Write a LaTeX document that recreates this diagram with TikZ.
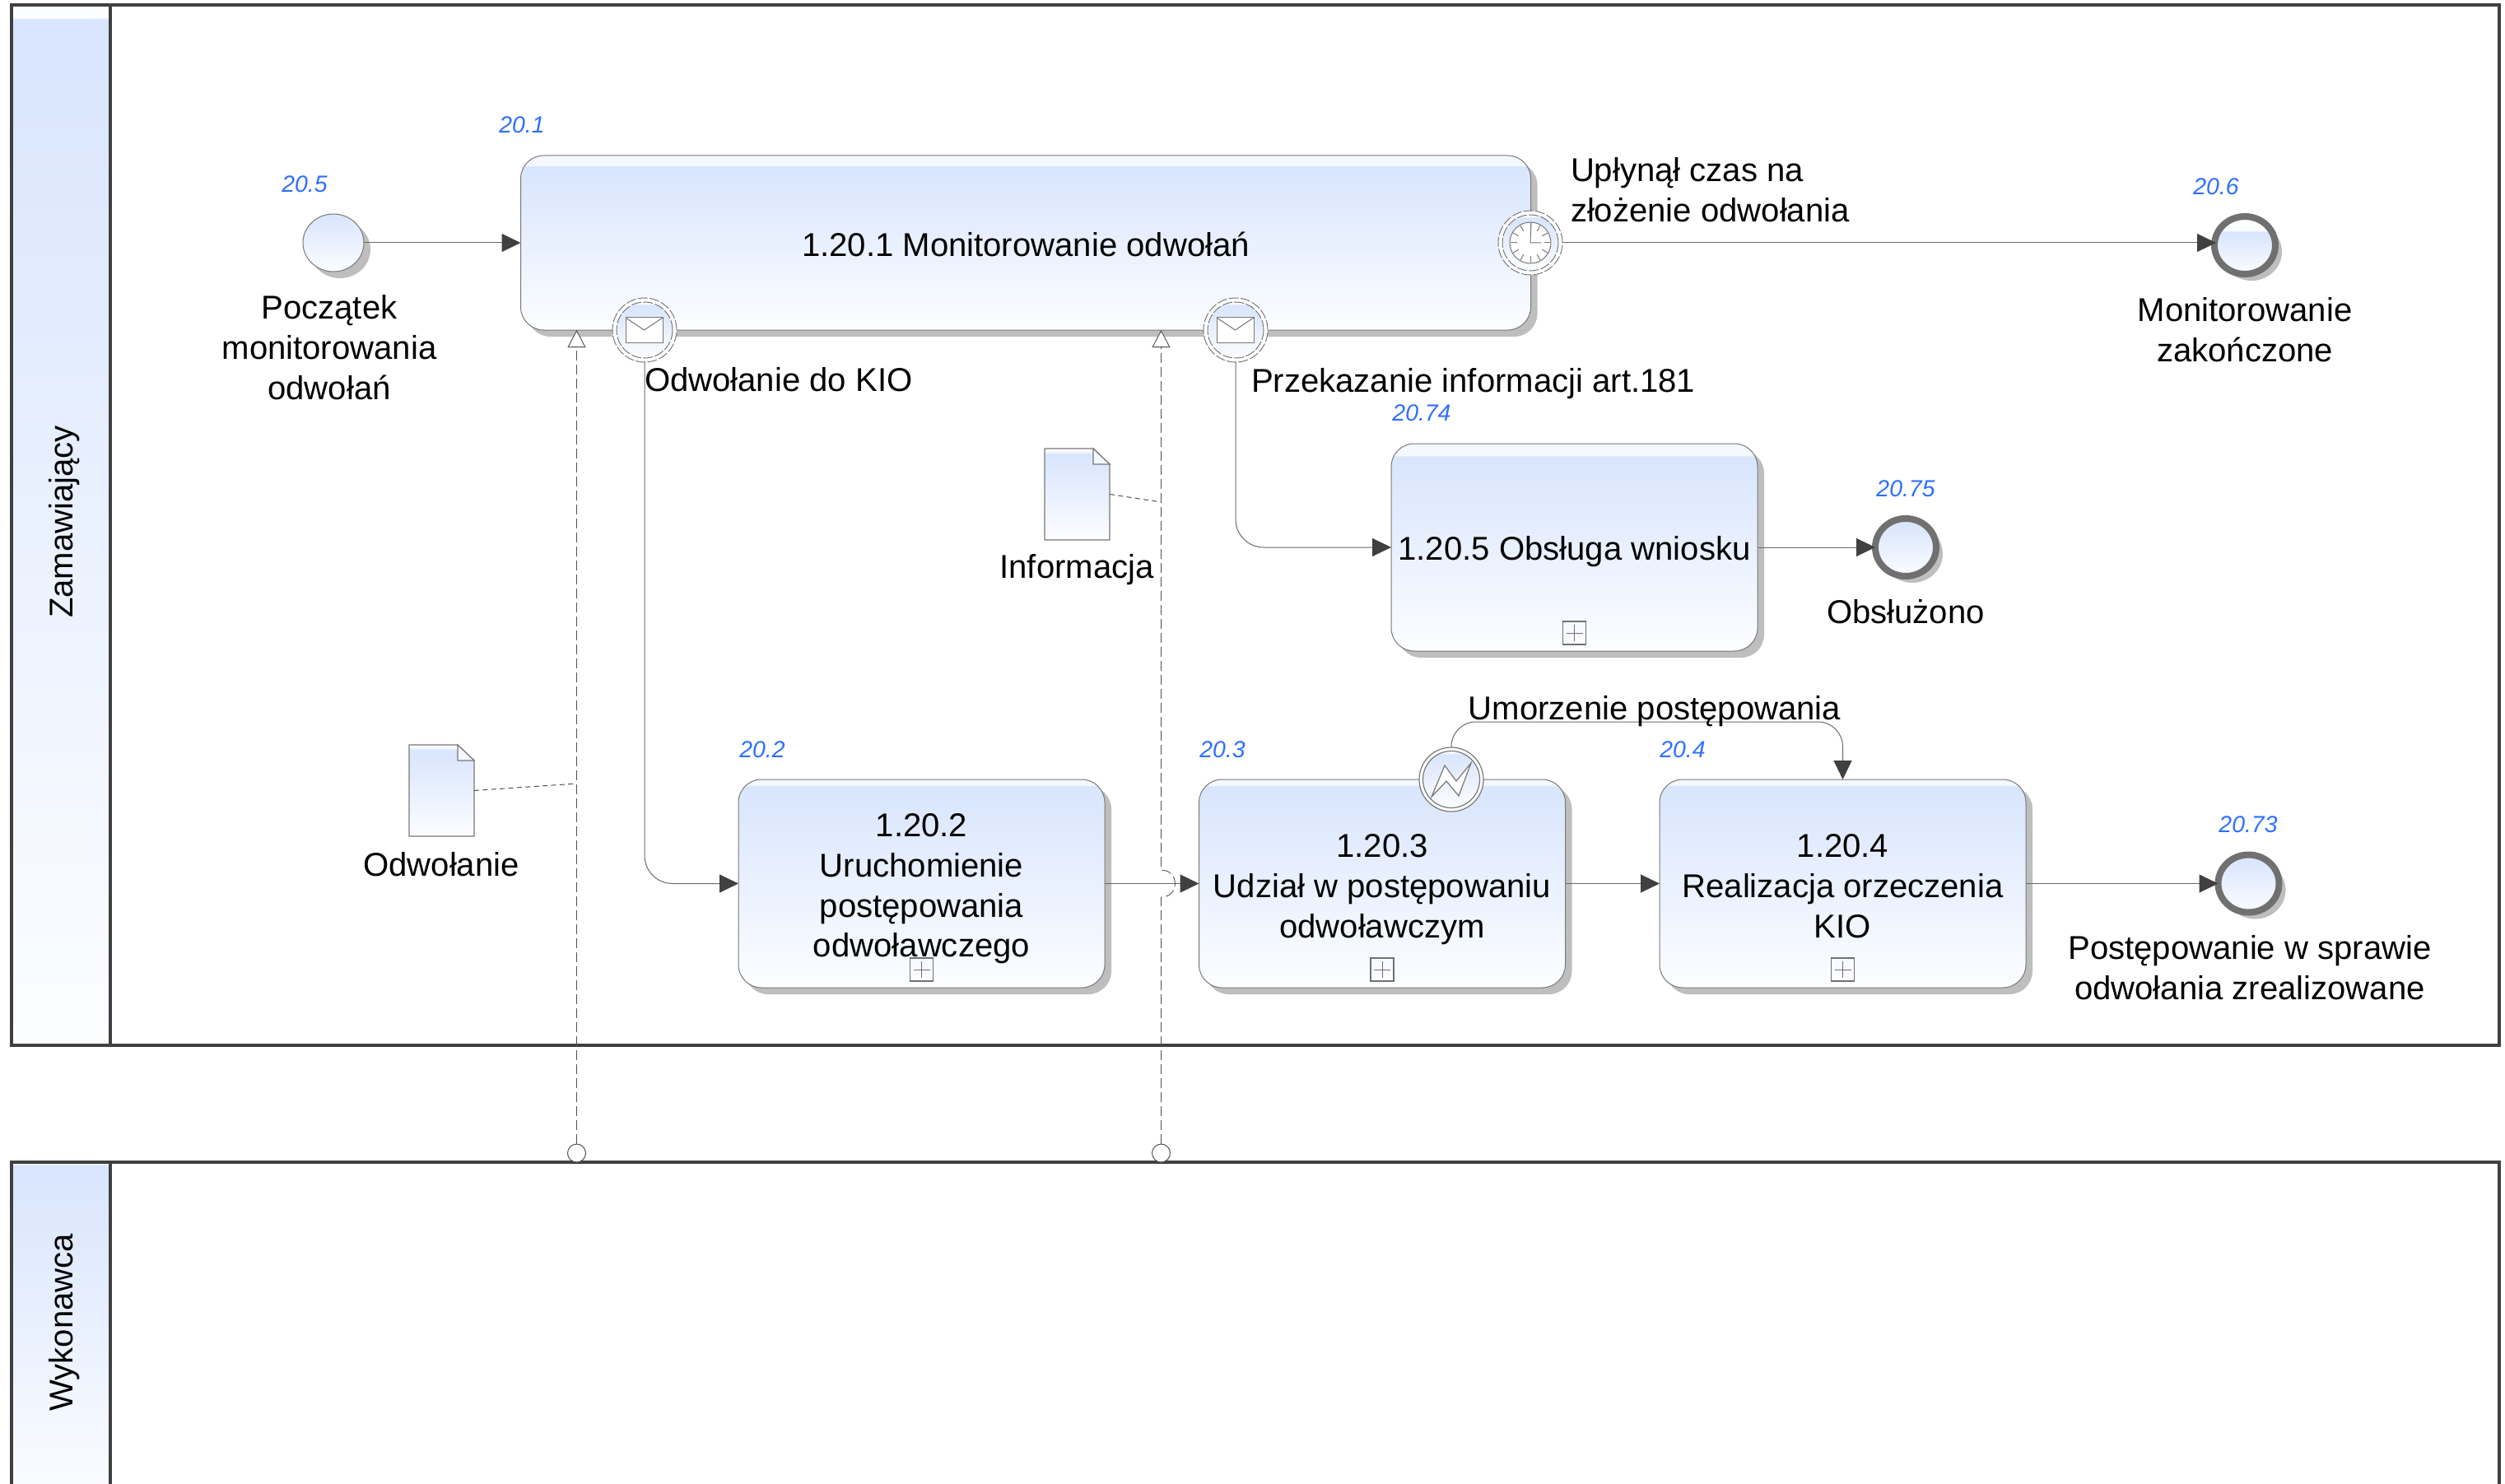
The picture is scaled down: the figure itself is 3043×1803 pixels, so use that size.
\documentclass[tikz,border=0pt]{standalone}
\usepackage{fontspec}
\setmainfont{Liberation Sans}
\usetikzlibrary{arrows.meta,shapes.geometric,shadows,calc}
\definecolor{gtop}{HTML}{D8E5FD}
\definecolor{gbot}{HTML}{FCFDFF}
\definecolor{gstrip}{HTML}{F4F8FF}
\definecolor{edgegray}{HTML}{787878}
\definecolor{ringgray}{HTML}{707070}
\definecolor{poolgray}{HTML}{404040}
\definecolor{shadowgray}{HTML}{BEBEBE}
\definecolor{idblue}{HTML}{2F70FF}
\definecolor{tipdark}{HTML}{404040}
\definecolor{linegray}{HTML}{505050}
\pgfdeclareverticalshading{taskA}{100bp}{color(0bp)=(gbot); color(25bp)=(gbot); color(72bp)=(gtop); color(72.1bp)=(gstrip); color(100bp)=(gstrip)}
\pgfdeclareverticalshading{taskB}{100bp}{color(0bp)=(gbot); color(25bp)=(gbot); color(73.5bp)=(gtop); color(73.6bp)=(gstrip); color(100bp)=(gstrip)}
\pgfdeclareverticalshading{poolA}{100bp}{color(0bp)=(gbot); color(25bp)=(gbot); color(74.3bp)=(gtop); color(74.4bp)=(gbot); color(100bp)=(gbot)}
\pgfdeclareverticalshading{poolB}{100bp}{color(0bp)=(gbot); color(25bp)=(gbot); color(74.6bp)=(gtop); color(74.7bp)=(gbot); color(100bp)=(gbot)}
\pgfdeclareverticalshading{evA}{100bp}{color(0bp)=(gbot); color(25bp)=(gbot); color(61.5bp)=(gtop); color(63bp)=(gbot); color(100bp)=(gbot)}
\pgfdeclareverticalshading{evB}{100bp}{color(0bp)=(gbot); color(25bp)=(gbot); color(72bp)=(gtop); color(74bp)=(gbot); color(100bp)=(gbot)}
\pgfdeclareverticalshading{evC}{100bp}{color(0bp)=(gbot); color(25bp)=(gbot); color(75bp)=(gtop); color(100bp)=(gtop)}
\newcommand{\topstrut}[1]{\rule{0pt}{#1pt}}
\tikzset{
  lbl/.style={inner sep=0pt,outer sep=0pt,align=center,font=\fontsize{20.05}{24.4}\selectfont,text=black},
  idlbl/.style={inner sep=0pt,outer sep=0pt,font=\fontsize{14.2}{16}\selectfont\itshape,text=idblue},
  taskbox/.style={rectangle,rounded corners=14pt,draw=edgegray,line width=.5pt,inner sep=0pt,outer sep=0pt,shading=#1,align=center,
    font=\fontsize{20.05}{24.4}\selectfont,
    drop shadow={shadow xshift=4pt,shadow yshift=-4pt,opacity=1,fill=shadowgray}},
  rowtask/.style={taskbox=taskB,minimum width=222.5pt,minimum height=126.5pt},
  startev/.style={ellipse,draw=edgegray,line width=.5pt,inner sep=0pt,outer sep=0pt,shading=evC,minimum width=37pt,minimum height=35pt,
    drop shadow={shadow xshift=4pt,shadow yshift=-4pt,opacity=1,fill=shadowgray}},
  endev/.style={ellipse,draw=ringgray,line width=4pt,inner sep=0pt,outer sep=0pt,shading=#1,minimum width=37pt,minimum height=35pt,
    drop shadow={shadow xshift=4pt,shadow yshift=-4pt,opacity=1,fill=shadowgray}},
  boundout/.style={circle,draw=edgegray,line width=.5pt,dash pattern=on 6pt off 1.2pt,fill=white,inner sep=0pt,outer sep=0pt,minimum size=39pt},
  boundin/.style={circle,draw=edgegray,line width=.5pt,dash pattern=on 6pt off 1.2pt,shading=evB,inner sep=0pt,outer sep=0pt,minimum size=34pt},
  solidout/.style={circle,draw=edgegray,line width=.6pt,fill=white,inner sep=0pt,outer sep=0pt,minimum size=39pt},
  solidin/.style={circle,draw=edgegray,line width=.6pt,shading=evB,inner sep=0pt,outer sep=0pt,minimum size=34.5pt},
  envelope/.style={rectangle,draw=edgegray,line width=.5pt,fill=white,inner sep=0pt,outer sep=0pt,minimum width=22.5pt,minimum height=15pt,
    path picture={\draw[edgegray,line width=.5pt] (path picture bounding box.north west) -- (path picture bounding box.center) -- (path picture bounding box.north east);}},
  clockface/.style={circle,draw=edgegray,line width=.5pt,fill=white,inner sep=0pt,outer sep=0pt,minimum size=25pt},
  plusbox/.style={rectangle,draw=ringgray,line width=.7pt,fill=none,inner sep=0pt,outer sep=0pt,minimum size=14pt,
    path picture={\draw[ringgray,line width=.5pt] ([xshift=2pt]path picture bounding box.west) -- ([xshift=-2pt]path picture bounding box.east)
       ([yshift=-2pt]path picture bounding box.north) -- ([yshift=2pt]path picture bounding box.south);}},
  flow/.style={draw=linegray!85!white,line width=.5pt,-{Triangle[length=11.5pt,width=11pt,color=tipdark]}},
  msgflow/.style={draw=linegray,line width=.45pt,dash pattern=on 6pt off 2.5pt,-{Triangle[open,length=10.5pt,width=11pt,fill=white,color=linegray]}},
  msgend/.style={circle,draw=linegray,line width=.5pt,fill=white,inner sep=0pt,outer sep=0pt,minimum size=11pt},
  assoc/.style={draw=linegray,line width=.5pt,dash pattern=on 3pt off 2.2pt},
  poolbox/.style={rectangle,draw=poolgray,line width=2pt,inner sep=0pt,outer sep=0pt},
  docanchor/.style={rectangle,inner sep=0pt,outer sep=0pt,minimum width=39.5pt,minimum height=55.5pt},
  docline/.style={draw=edgegray,line width=.6pt,line join=miter}
}
\newcommand{\docobj}[3]{%
  \node[docanchor] (#1) at (#2+39.5,#3+55.5) {};
  \path[docline,shading=evB] (#2,#3) -- (#2+59,#3) -- (#2+79,#3+19) -- (#2+79,#3+111) -- (#2,#3+111) -- cycle;
  \path[docline,fill=gstrip] (#2+59,#3) -- (#2+79,#3+19) -- (#2+59,#3+19) -- cycle;
}
\begin{document}
\begin{tikzpicture}[x=0.5pt,y=-0.5pt]
\clip (0,0) rectangle (3043,1803);
\fill[white] (0,0) rectangle (3043,1803);
% pools
\draw[poolbox,fill=white] (134,6) rectangle (3036,1270);
\draw[poolbox,shading=poolA] (14,6) rectangle (134,1270);
\draw[poolbox,fill=white] (134,1412) rectangle (3036,1830);
\draw[poolbox,shading=poolB] (14,1412) rectangle (134,1830);
\node[lbl,rotate=90] (lane1) at (78,634) {Zamawiający};
\node[lbl,rotate=90] (lane2) at (78,1607) {Wykonawca};
% message flow ends
\node[msgend] (mc1) at (700.5,1401) {};
\node[msgend] (mc2) at (1410.5,1401) {};
% tasks
\node[taskbox=taskA,minimum width=613.5pt,minimum height=106pt] (t1) at (1246,295) {\topstrut{17}1.20.1 Monitorowanie odwołań};
\node[taskbox=taskA,minimum width=222.5pt,minimum height=126pt] (t5) at (1912.5,665) {\topstrut{19.3}1.20.5 Obsługa wniosku};
\node[rowtask] (t2) at (1119.5,1073.5) {\topstrut{20.3}1.20.2\\Uruchomienie\\postępowania\\odwoławczego};
\node[rowtask] (t3) at (1679,1073.5) {\topstrut{21.3}1.20.3\\Udział w postępowaniu\\odwoławczym};
\node[rowtask] (t4) at (2238.5,1073.5) {\topstrut{17.3}1.20.4\\Realizacja orzeczenia\\KIO};
\node[plusbox] (p5) at (1912.5,769) {};
\node[plusbox] (p2) at (1119.5,1178) {};
\node[plusbox] (p3) at (1679,1178) {};
\node[plusbox] (p4) at (2238.5,1178) {};
% events
\node[startev] (s1) at (405,295) {};
\node[endev=evA] (e6) at (2727,298) {};
\node[endev=evB] (e75) at (2315,665) {};
\node[endev=evB] (e73) at (2731.5,1073.5) {};
% boundary: message 1
\node[boundout] (m1) at (783,401) {};
\node[boundin] (m1in) at (783,401) {};
\node[envelope] (m1env) at (782.5,401) {};
% boundary: message 2
\node[boundout] (m2) at (1501,401) {};
\node[boundin] (m2in) at (1501,401) {};
\node[envelope] (m2env) at (1500.5,401) {};
% boundary: timer
\node[boundout] (tm) at (1859,295) {};
\node[boundin] (tmin) at (1859,295) {};
\node[clockface] (tmface) at (1859,295) {};
\foreach \a in {0,30,...,330}{\draw[edgegray,line width=.5pt] ($(tmface.center)+(\a:16.5)$) -- ($(tmface.center)+(\a:24)$);}
\draw[edgegray,line width=.5pt] (1860,270) -- (tmface.center) -- (1872,295);
% boundary: error
\node[solidout] (iev) at (1763,947) {};
\node[solidin] (ievin) at (1763,947) {};
\draw[edgegray,line width=.6pt,fill=white,line join=miter] (1739,968) -- (1755,930) -- (1769,949) -- (1787,927) -- (1772,967) -- (1757,949) -- cycle;
% data objects
\docobj{d1}{497}{905}
\docobj{d2}{1269}{545}
% sequence flows
\draw[flow] (s1.east) -- (t1.west);
\draw[flow] (tm.east) -- (2692,295) coordinate (e6in);
\draw[flow,rounded corners=17pt] (m1.south) |- (t2.west);
\draw[flow,rounded corners=17pt] (m2.south) |- (t5.west);
\draw[flow] (t5.east) -- (e75.west);
\draw[flow] (t2.east) -- (t3.west);
\draw[flow] (t3.east) -- (t4.west);
\draw[flow] (t4.east) -- (e73.west);
\coordinate (uu) at (2000,877);
\draw[flow,rounded corners=15pt] (iev.north) |- (uu) -| (t4.north);
% message flows
\draw[msgflow] (mc1.north) -- (mc1 |- t1.south);
\coordinate (hopa) at (1410.5,1090);
\coordinate (hopb) at (1410.5,1057);
\draw[msgflow] (mc2.north) -- (hopa) .. controls (1433,1090) and (1433,1057) .. (hopb) -- (mc2 |- t1.south);
% associations
\coordinate (a1) at (700.5,952);
\coordinate (a2) at (1410.5,610);
\draw[assoc] (d1.east) -- (a1);
\draw[assoc] (d2.east) -- (a2);
% labels
\node[lbl] (l1) at (400,422) {Początek\\monitorowania\\odwołań};
\node[lbl,align=left,anchor=west] (l2) at (1908,231) {Upłynął czas na\\złożenie odwołania};
\node[lbl] (l3) at (2727,401) {Monitorowanie\\zakończone};
\node[lbl,anchor=west] (l4) at (783,461) {Odwołanie do KIO};
\node[lbl,anchor=west] (l5) at (1520,466) {Przekazanie informacji art.181};
\node[lbl] (l6) at (1308,692) {Informacja};
\node[lbl] (l7) at (2315,743) {Obsłużono};
\node[lbl] (l8) at (2010,864) {Umorzenie postępowania};
\node[lbl] (l9) at (536,1050) {Odwołanie};
\node[lbl] (l10) at (2733,1176) {Postępowanie w sprawie\\odwołania zrealizowane};
% ids
\node[idlbl] (i1) at (634,152) {20.1};
\node[idlbl] (i5) at (370,224) {20.5};
\node[idlbl] (i6) at (2692,227) {20.6};
\node[idlbl] (i74) at (1727,502) {20.74};
\node[idlbl] (i75) at (2315,594) {20.75};
\node[idlbl] (i2) at (926,911) {20.2};
\node[idlbl] (i3) at (1485,911) {20.3};
\node[idlbl] (i4) at (2044,911) {20.4};
\node[idlbl] (i73) at (2731,1002) {20.73};
\end{tikzpicture}
\end{document}
